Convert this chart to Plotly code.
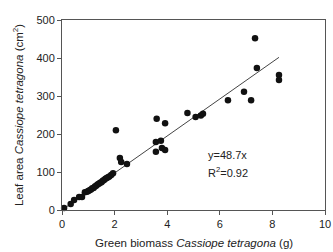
import plotly.graph_objects as go

# Data
biomass_g = [0.08, 0.33, 0.46, 0.65, 0.76, 0.87, 0.95, 1.0, 1.05, 1.1, 1.15, 1.2, 1.25,
             1.3, 1.35, 1.4, 1.45, 1.5, 1.55, 1.6, 1.65, 1.7, 1.75, 1.8, 1.87, 1.94,
             2.05, 2.2, 2.25, 2.47, 3.57, 3.6, 3.76, 3.57, 3.8, 3.92, 3.92,
             4.77, 5.08, 5.28, 5.36, 6.31, 6.92, 7.19, 7.34, 7.41, 8.25, 8.25]
leaf_area_cm2 = [5, 16, 26, 34, 34, 47, 48, 50, 52, 54, 57, 58, 62,
                 64, 67, 69, 72, 73, 77, 79, 82, 84, 86, 88, 92, 97,
                 210, 137, 126, 121, 179, 240, 182, 153, 163, 158, 228,
                 255, 245, 249, 253, 289, 311, 289, 452, 374, 355, 342]
slope = 48.7
r_squared = 0.92
fit_x = [0, 8.25]
fit_y = [slope * v for v in fit_x]
x_ticks = [0, 2, 4, 6, 8, 10]
y_ticks = [0, 100, 200, 300, 400, 500]

FONT = "Liberation Sans, Arial"
TXT = "#222222"

fig = go.Figure()
fig.add_trace(go.Scatter(x=fit_x, y=fit_y, mode="lines",
                         line=dict(color="#444444", width=1), hoverinfo="skip"))
fig.add_trace(go.Scatter(x=biomass_g, y=leaf_area_cm2, mode="markers",
                         marker=dict(color="#111111", size=6.5), cliponaxis=False))

fig.add_annotation(x=5.48, y=144, xref="x", yref="y", xanchor="left", yanchor="middle",
                   text=f"y={slope}x", showarrow=False,
                   font=dict(family=FONT, size=11, color=TXT))
fig.add_annotation(x=5.48, y=100, xref="x", yref="y", xanchor="left", yanchor="middle",
                   text=f"R<sup>2</sup>={r_squared}", showarrow=False,
                   font=dict(family=FONT, size=11, color=TXT))

# axis titles
fig.add_annotation(x=0.5, y=-0.174, xref="paper", yref="paper", xanchor="center", yanchor="middle",
                   text="Green biomass <i>Cassiope tetragona</i> (g)", showarrow=False,
                   font=dict(family=FONT, size=11.5, color=TXT))
fig.add_annotation(x=-0.167, y=0.5, xref="paper", yref="paper", xanchor="center", yanchor="middle",
                   text="Leaf area <i>Cassiope tetragona</i> (cm<sup>2</sup>)", showarrow=False,
                   textangle=-90, font=dict(family=FONT, size=11.5, color=TXT))

axis_common = dict(showgrid=False, zeroline=False, showline=True, linecolor="#555555",
                   linewidth=1, mirror=True, ticks="outside", ticklen=4, tickcolor="#555555",
                   ticklabeloverflow="allow",
                   tickfont=dict(family=FONT, size=11, color=TXT))

fig.update_layout(
    width=333, height=252, showlegend=False,
    margin=dict(l=62, r=8, t=20, b=42, autoexpand=False),
    paper_bgcolor="white", plot_bgcolor="white",
    xaxis=dict(range=[0, 10], tickvals=x_ticks, **axis_common),
    yaxis=dict(range=[0, 500], tickvals=y_ticks, **axis_common),
)
fig.write_html("out.html",
               config={"displayModeBar": False},
               post_script="document.body.style.margin='0';document.body.style.overflow='hidden';")
